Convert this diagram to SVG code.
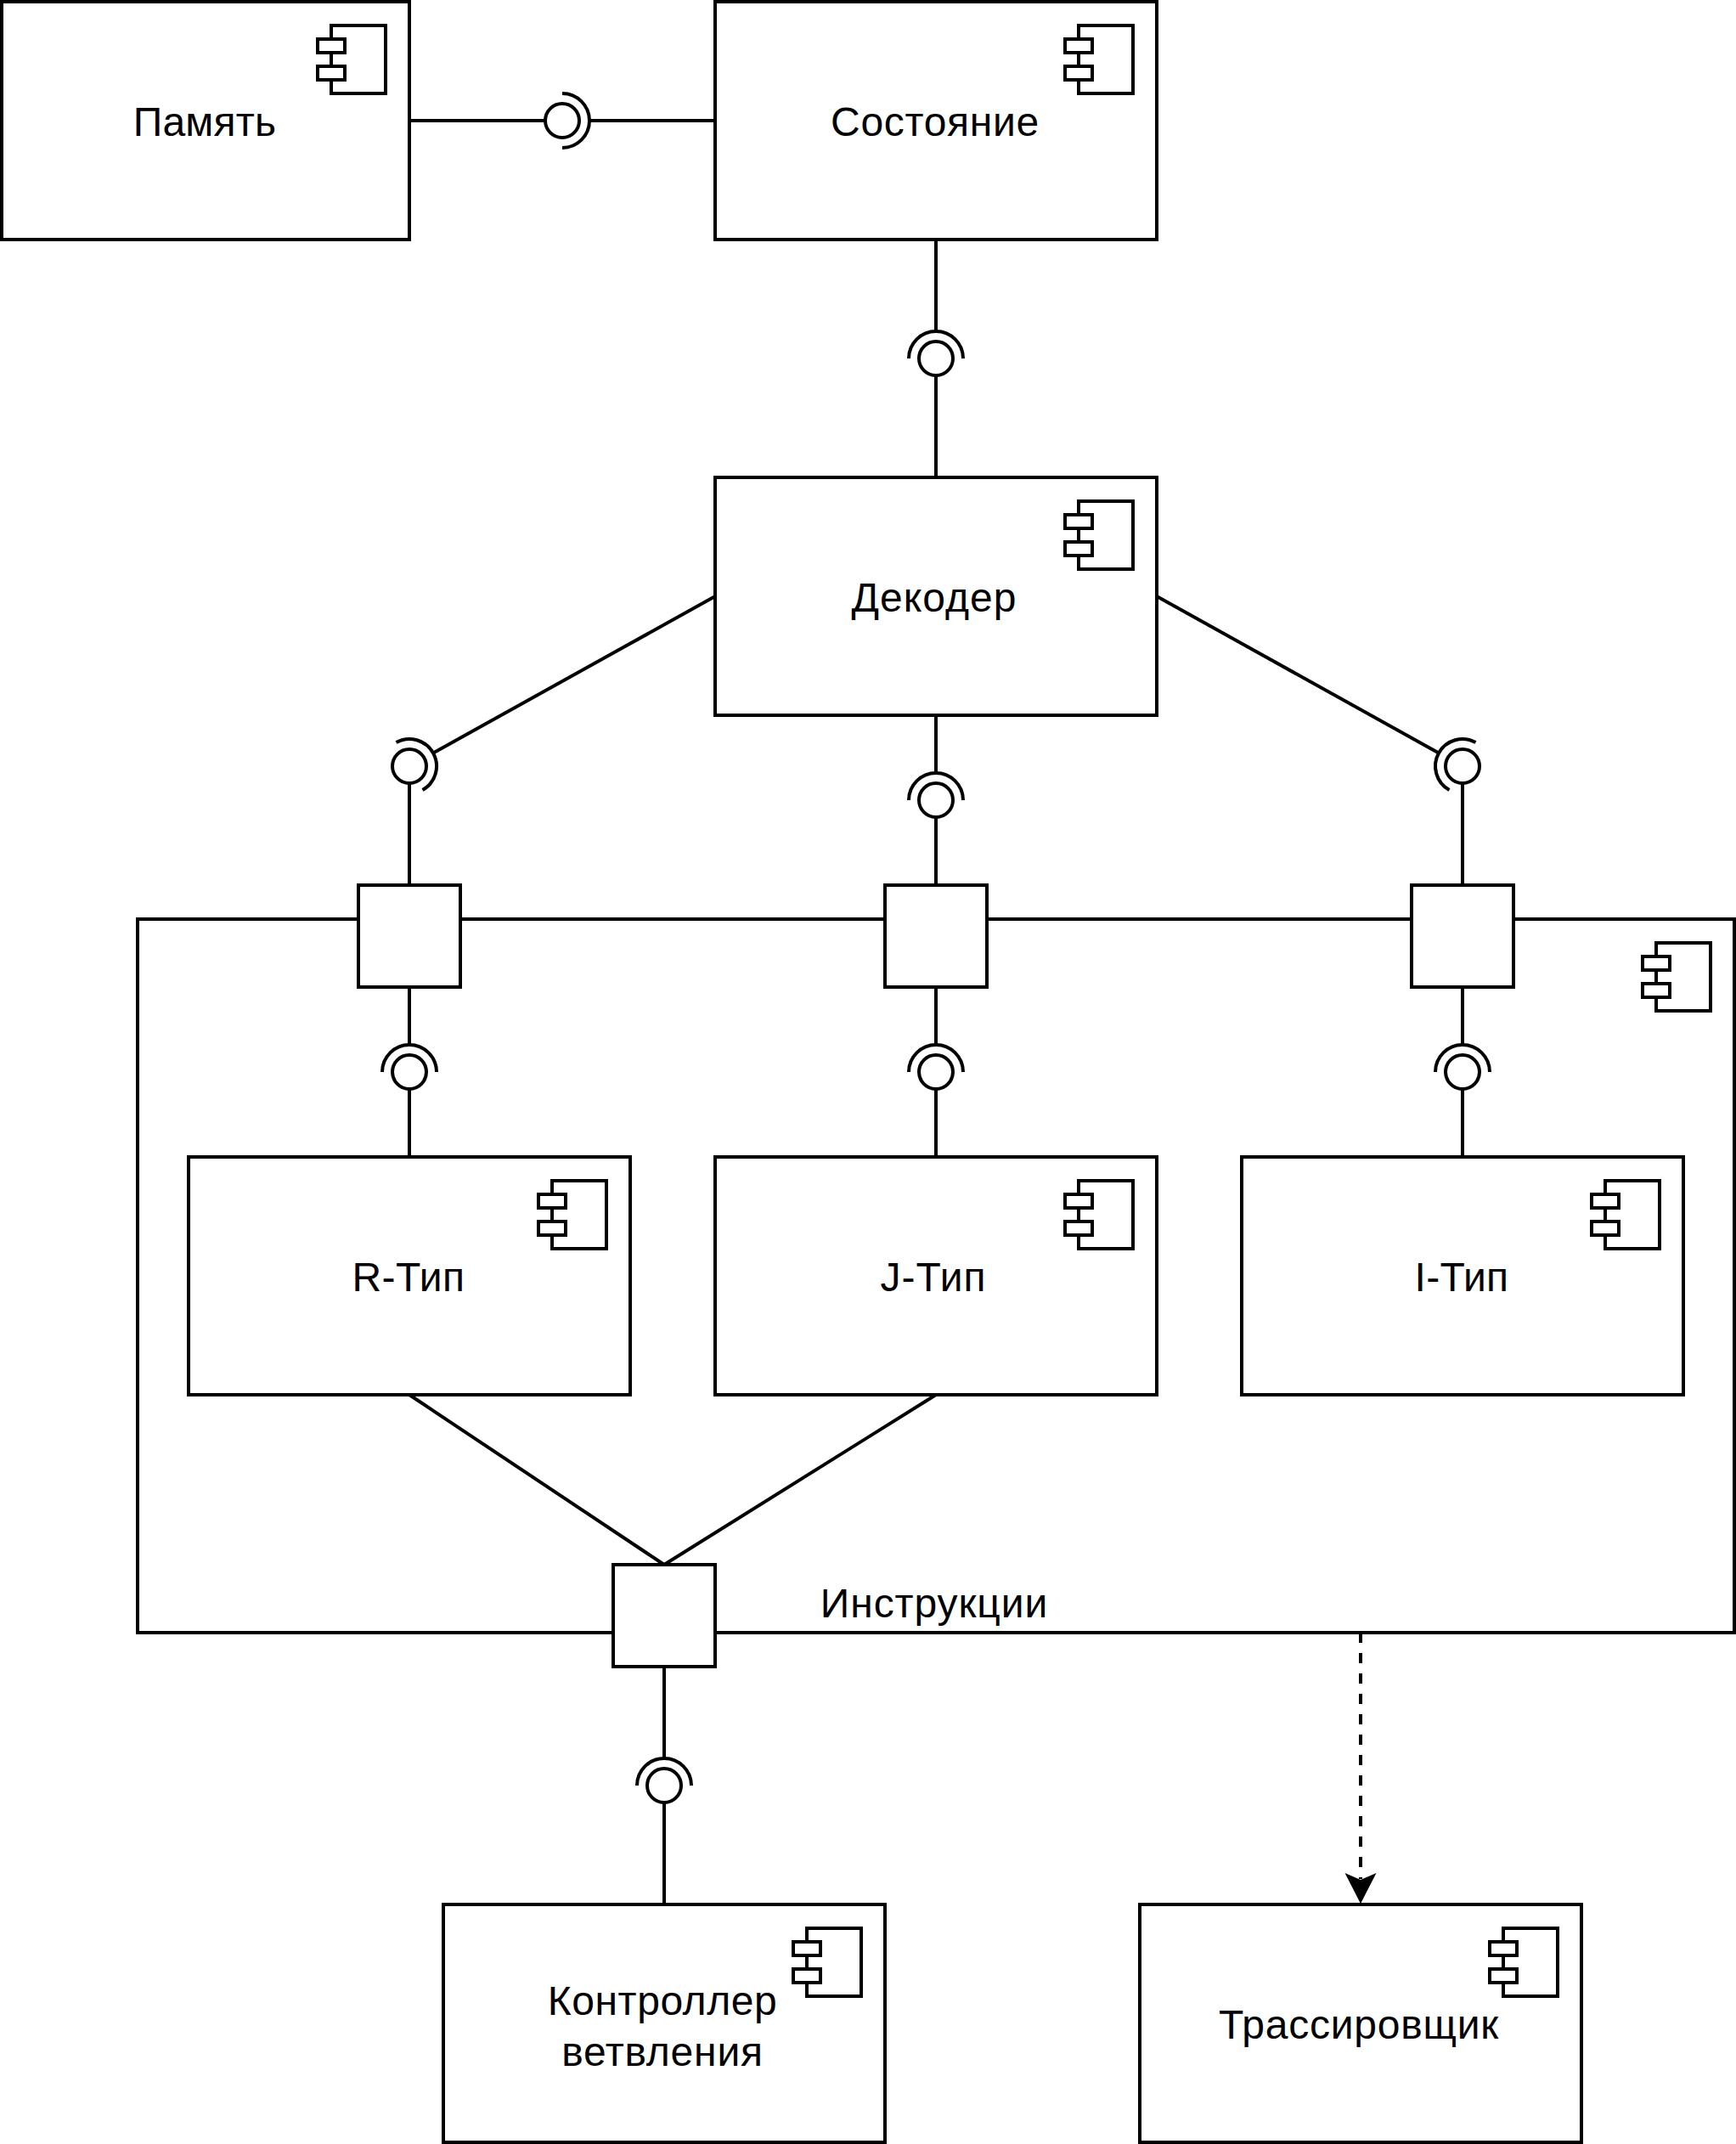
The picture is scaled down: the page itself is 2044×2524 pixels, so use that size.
<svg xmlns="http://www.w3.org/2000/svg" width="2044" height="2524" viewBox="0 0 2044 2524">
<style>
text{font-family:"Liberation Sans",Arial,sans-serif;font-size:48px;fill:#000;text-anchor:middle}
.s{fill:#fff;stroke:#000;stroke-width:4}
.l{fill:none;stroke:#000;stroke-width:4}
.d{fill:none;stroke:#000;stroke-width:4;stroke-dasharray:12 12}
</style>
<defs>
<g id="icon"><rect class="s" x="16" y="0" width="64" height="80"/><rect class="s" x="0" y="16" width="32" height="16"/><rect class="s" x="0" y="48" width="32" height="16"/></g>
<marker id="arrow" markerUnits="userSpaceOnUse" markerWidth="40" markerHeight="40" refX="7" refY="20" orient="auto"><path d="M0 1.500L36 20L0 38.500L8 20Z" fill="#000"/></marker>
</defs>
<rect width="2044" height="2524" fill="#fff"/>
<g id="instructions">
<rect class="s" x="162" y="1082" width="1880" height="840"/>
<use href="#icon" x="1934" y="1110"/>
<text x="1100" y="1904" letter-spacing="0.9">Инструкции</text>
</g>
<g id="connectors">
<path class="l" d="M482 142H642"/><path class="l" d="M694 142H842"/>
<path class="l" d="M662 110A32 32 0 0 1 662 174"/><circle class="s" cx="662" cy="142" r="20"/>
<path class="l" d="M1102 282V390"/><path class="l" d="M1102 442V562"/>
<path class="l" d="M1070 422A32 32 0 0 1 1134 422"/><circle class="s" cx="1102" cy="422" r="20"/>
<path class="l" d="M842 702L510 886.500"/><path class="l" d="M482 922V1042"/>
<path class="l" d="M466.500 874A32 32 0 0 1 497.500 930"/><circle class="s" cx="482" cy="902" r="20"/>
<path class="l" d="M1102 842V910"/><path class="l" d="M1102 962V1042"/>
<path class="l" d="M1070 942A32 32 0 0 1 1134 942"/><circle class="s" cx="1102" cy="942" r="20"/>
<path class="l" d="M1362 702L1694 886.500"/><path class="l" d="M1722 922V1042"/>
<path class="l" d="M1737.500 874A32 32 0 0 0 1706.500 930"/><circle class="s" cx="1722" cy="902" r="20"/>
<path class="l" d="M482 1162V1230"/><path class="l" d="M482 1282V1362"/>
<path class="l" d="M450 1262A32 32 0 0 1 514 1262"/><circle class="s" cx="482" cy="1262" r="20"/>
<path class="l" d="M1102 1162V1230"/><path class="l" d="M1102 1282V1362"/>
<path class="l" d="M1070 1262A32 32 0 0 1 1134 1262"/><circle class="s" cx="1102" cy="1262" r="20"/>
<path class="l" d="M1722 1162V1230"/><path class="l" d="M1722 1282V1362"/>
<path class="l" d="M1690 1262A32 32 0 0 1 1754 1262"/><circle class="s" cx="1722" cy="1262" r="20"/>
<path class="l" d="M482 1642L782 1842"/><path class="l" d="M1102 1642L782 1842"/>
<path class="l" d="M782 1962V2070"/><path class="l" d="M782 2122V2242"/>
<path class="l" d="M750 2102A32 32 0 0 1 814 2102"/><circle class="s" cx="782" cy="2102" r="20"/>
<path class="d" d="M1602 1922V2212" marker-end="url(#arrow)"/>
</g>
<g id="memory"><rect class="s" x="2" y="2" width="480" height="280"/><use href="#icon" x="374" y="30"/><text x="241" y="160" letter-spacing="0.25">Память</text></g>
<g id="state"><rect class="s" x="842" y="2" width="520" height="280"/><use href="#icon" x="1254" y="30"/><text x="1101" y="160" letter-spacing="0.7">Состояние</text></g>
<g id="decoder"><rect class="s" x="842" y="562" width="520" height="280"/><use href="#icon" x="1254" y="590"/><text x="1100" y="720" letter-spacing="1">Декодер</text></g>
<g id="port-r"><rect class="s" x="422" y="1042" width="120" height="120"/></g>
<g id="port-j"><rect class="s" x="1042" y="1042" width="120" height="120"/></g>
<g id="port-i"><rect class="s" x="1662" y="1042" width="120" height="120"/></g>
<g id="r-type"><rect class="s" x="222" y="1362" width="520" height="280"/><use href="#icon" x="634" y="1390"/><text x="481" y="1520" letter-spacing="0.5">R-Тип</text></g>
<g id="j-type"><rect class="s" x="842" y="1362" width="520" height="280"/><use href="#icon" x="1254" y="1390"/><text x="1099" y="1520" letter-spacing="1">J-Тип</text></g>
<g id="i-type"><rect class="s" x="1462" y="1362" width="520" height="280"/><use href="#icon" x="1874" y="1390"/><text x="1721" y="1520" letter-spacing="0.3">I-Тип</text></g>
<g id="port-out"><rect class="s" x="722" y="1842" width="120" height="120"/></g>
<g id="branch"><rect class="s" x="522" y="2242" width="520" height="280"/><use href="#icon" x="934" y="2270"/><text x="780" y="2372" letter-spacing="0.55">Контроллер</text><text x="780" y="2432" letter-spacing="0.8">ветвления</text></g>
<g id="tracer"><rect class="s" x="1342" y="2242" width="520" height="280"/><use href="#icon" x="1754" y="2270"/><text x="1600" y="2400" letter-spacing="0.75">Трассировщик</text></g>
</svg>
